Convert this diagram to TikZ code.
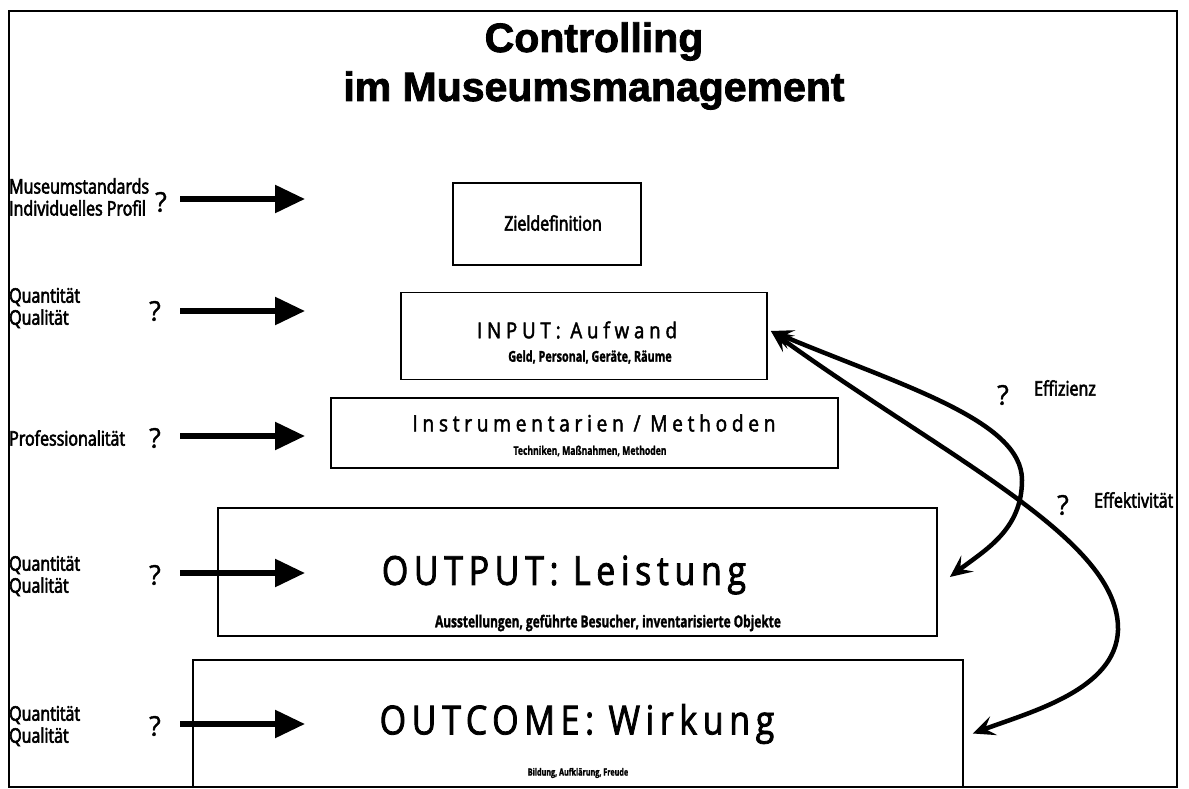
\documentclass[tikz,border=0pt]{standalone}
\usepackage{fontspec}
\setmainfont{Liberation Sans}
\newfontfamily\titlefont[FakeBold=2]{Liberation Sans}
\newfontfamily\labelfont[FakeStretch=0.80,FakeBold=3]{Open Sans}
\newfontfamily\boxfont[FakeStretch=0.85,FakeBold=2]{Open Sans}
\newfontfamily\subfont[FakeStretch=0.72,FakeBold=1.5]{Open Sans}
\newfontfamily\qfont[FakeBold=1.5]{Open Sans}
\usetikzlibrary{arrows.meta,calc}

\tikzset{
  frame/.style={draw, line width=2pt},
  stage/.style={draw, line width=1.8pt, inner sep=0pt},
  titletext/.style={font=\titlefont\bfseries\fontsize{41}{48}\selectfont, anchor=base, inner sep=0pt},
  sidelabel/.style={font=\labelfont\fontsize{20}{22}\selectfont, align=left, anchor=west, inner sep=0pt},
  qmark/.style={font=\qfont\fontsize{27}{30}\selectfont, inner sep=0pt},
  maintext/.style 2 args={font=\boxfont\addfontfeature{LetterSpace=#2}\fontsize{#1}{#1}\selectfont, inner sep=0pt},
  subtext/.style={font=\subfont\bfseries\fontsize{#1}{#1}\selectfont, inner sep=0pt},
  sidearrow/.style={line width=5.5pt, -{Triangle[length=30pt,width=27pt]}},
  loop/.style={line width=4.5pt, {Stealth[length=22pt,width=20pt,inset=9pt]}-{Stealth[length=22pt,width=20pt,inset=9pt]}},
  relation/.style={font=\labelfont\fontsize{20}{22}\selectfont, inner sep=0pt}
}

\begin{document}
\begin{tikzpicture}[x=1pt,y=-1pt]
\useasboundingbox (0,0) rectangle (1189,789);

% outer frame
\draw[frame] (9,11) rectangle (1177,787);

% heading
\node[titletext] (t1) at (594,52) {Controlling};
\node[titletext] (t2) at (594,101) {im Museumsmanagement};

% the five stages
\node[stage, minimum width=188, minimum height=82] (ziel) at (547,224) {};
\node[stage, minimum width=366, minimum height=87] (input) at (584,336) {};
\node[stage, minimum width=507, minimum height=70] (instr) at (584.5,433) {};
\node[stage, minimum width=719, minimum height=128] (output) at (577.5,572) {};
\node[stage, minimum width=770, minimum height=127] (outcome) at (578,723.5) {};

% stage texts
\node[font=\labelfont\fontsize{20}{24}\selectfont, inner sep=0pt] (zt) at (553,223) {Zieldefinition};
\node[maintext={22}{22}] (it) at (577,330) {INPUT: Aufwand};
\node[subtext=15] (is) at (590,357) {Geld, Personal, Geräte, Räume};
\node[maintext={22.5}{21}] (mt) at (594,423) {Instrumentarien / Methoden};
\node[subtext=12] (ms) at (590,451) {Techniken, Maßnahmen, Methoden};
\node[maintext={40}{14}] (ot) at (564,575) {OUTPUT: Leistung};
\node[subtext=16.5] (os) at (608,623) {Ausstellungen, geführte Besucher, inventarisierte Objekte};
\node[subtext=10] (cs) at (578,773) {Bildung, Aufklärung, Freude};
\node[maintext={40}{14}] (ct) at (577,724) {OUTCOME: Wirkung};

% left-hand criteria
\node[sidelabel] (l1) at (9,197) {Museumstandards\\Individuelles Profil};
\node[sidelabel] (l2) at (9,308) {Quantität\\Qualität};
\node[sidelabel] (l3) at (9,438) {Professionalität};
\node[sidelabel] (l4) at (9,576) {Quantität\\Qualität};
\node[sidelabel] (l5) at (9,726) {Quantität\\Qualität};

\node[qmark] (q1) at (161,202) {?};
\node[qmark] (q2) at (155,311) {?};
\node[qmark] (q3) at (155,438) {?};
\node[qmark] (q4) at (155,575) {?};
\node[qmark] (q5) at (155,726) {?};

\coordinate (a1s) at (180,199); \coordinate (a1e) at (305,199);
\coordinate (a2s) at (180,311); \coordinate (a2e) at (305,311);
\coordinate (a3s) at (180,436); \coordinate (a3e) at (305,436);
\coordinate (a4s) at (180,573); \coordinate (a4e) at (305,573);
\coordinate (a5s) at (180,724); \coordinate (a5e) at (305,724);

\draw[sidearrow] (a1s) -- (a1e);
\draw[sidearrow] (a2s) -- (a2e);
\draw[sidearrow] (a3s) -- (a3e);
\draw[sidearrow] (a4s) -- (a4e);
\draw[sidearrow] (a5s) -- (a5e);

% efficiency and effectiveness loops
\coordinate (inTip) at ($(input.east)+(3,-5)$);
\coordinate (outTip) at ($(output.east)+(12,5)$);
\coordinate (outcTip) at ($(outcome.east)+(9,10)$);

\draw[loop] (inTip) .. controls (900,385) and (1022,420) .. (1022,480)
                    .. controls (1022,530) and (985,550) .. (outTip);
\draw[loop] (inTip) .. controls (950,460) and (1120,540) .. (1118,630)
                    .. controls (1116,690) and (1030,712) .. (outcTip);

\node[qmark] (qe1) at (1003,395) {?};
\node[relation, anchor=west] (eff) at (1034,388) {Effizienz};
\node[qmark] (qe2) at (1063,505) {?};
\node[relation, anchor=west] (effk) at (1094,500) {Effektivität};
\end{tikzpicture}
\end{document}
